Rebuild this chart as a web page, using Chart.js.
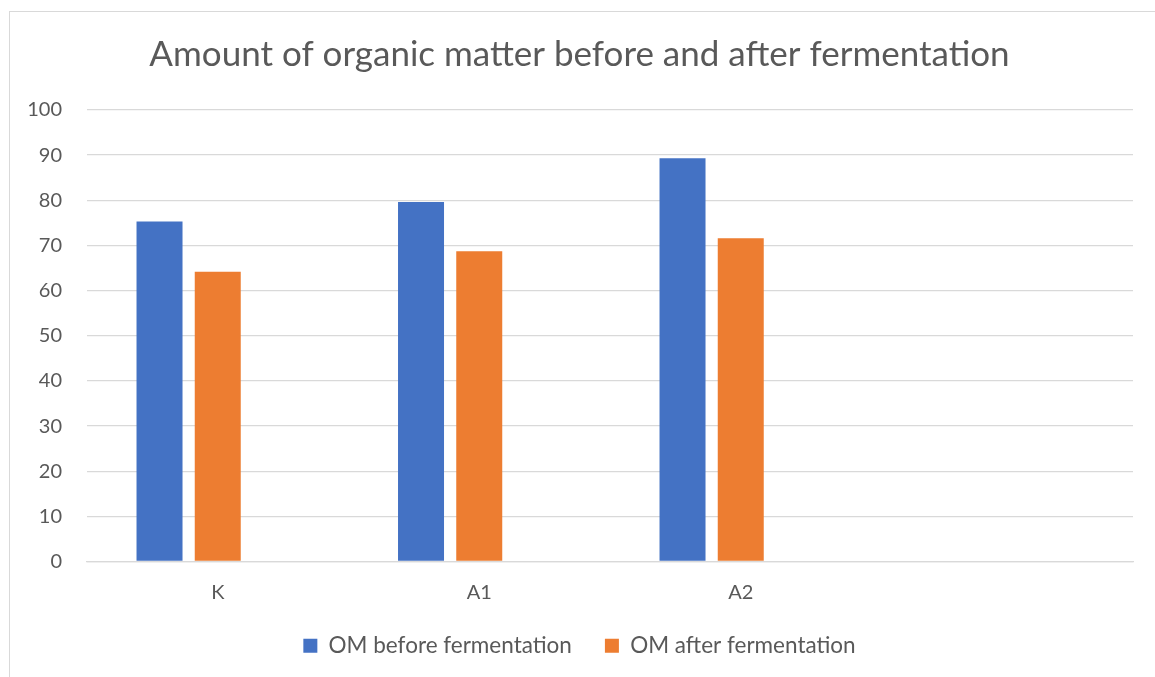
<!doctype html>
<html>
    <head>
        <title>Organic matter</title>
        <meta name="viewport" content="width=device-width, initial-scale=1.0">
        <script src="https://cdn.jsdelivr.net/npm/chart.js@4.4.0/dist/chart.umd.min.js"></script>
        <style>
            html, body { margin: 0; padding: 0; background: #fff; }
            #frame {
                position: absolute; left: 9px; top: 11px;
                width: 1160px; height: 680px;
                border: 1px solid #d9d9d9;
            }
            #container { position: absolute; left: 0; top: 0; width: 1155px; height: 677px; }
        </style>
    </head>
    <body>
        <div id="frame"></div>
        <div id="container">
            <canvas id="omChart"></canvas>
        </div>

        <script>
            var categories = ['K', 'A1', 'A2', ''];
            var omBefore = [75.3, 79.6, 89.3, null];
            var omAfter = [64.2, 68.7, 71.6, null];
            // excel keeps a third (empty) series slot next to the two bars
            var emptySeries = [null, null, null, null];
            var yTicks = [0, 10, 20, 30, 40, 50, 60, 70, 80, 90, 100];

            var font = "Lato, 'Open Sans', sans-serif";
            var grey = '#595959';

            var ctx = document.getElementById('omChart').getContext('2d');
            var chart = new Chart(ctx, {
                type: 'bar',
                data: {
                    labels: categories,
                    datasets: [{
                        label: 'OM before fermentation',
                        backgroundColor: '#4472C4',
                        data: omBefore
                    }, {
                        label: 'OM after fermentation',
                        backgroundColor: '#ED7D31',
                        data: omAfter
                    }, {
                        label: '',
                        backgroundColor: 'rgba(0,0,0,0)',
                        data: emptySeries
                    }]
                },
                options: {
                    responsive: true,
                    maintainAspectRatio: false,
                    animation: false,
                    // labels of the y scale are clipped to its box, so keep left padding small
                    layout: { padding: { top: 34, right: 22, left: 26, bottom: 10 } },
                    datasets: {
                        bar: { categoryPercentage: 0.668, barPercentage: 0.79 }
                    },
                    plugins: {
                        tooltip: { enabled: false },
                        title: {
                            display: true,
                            text: 'Amount of organic matter before and after fermentation',
                            color: grey,
                            font: { family: font, size: 35, weight: '400' },
                            padding: { top: 0, bottom: 34 }
                        },
                        legend: {
                            position: 'bottom',
                            labels: {
                                color: grey,
                                font: { family: font, size: 22.5 },
                                boxWidth: 14,
                                boxHeight: 14,
                                padding: 33,
                                filter: function (item) { return item.text !== ''; }
                            }
                        }
                    },
                    scales: {
                        x: {
                            afterFit: function (scale) { scale.height = 40; },
                            grid: { display: false, drawTicks: false },
                            border: { display: true, color: '#d9d9d9', width: 1.3 },
                            ticks: { color: grey, font: { family: font, size: 20 }, padding: 19 }
                        },
                        y: {
                            min: 0,
                            max: 100,
                            afterFit: function (scale) { scale.width = 61; },
                            afterBuildTicks: function (scale) {
                                scale.ticks = yTicks.map(function (v) { return { value: v }; });
                            },
                            grid: { color: '#d9d9d9', lineWidth: 1.3, drawTicks: false },
                            border: { display: false },
                            ticks: { color: grey, font: { family: font, size: 20 }, padding: 25 }
                        }
                    }
                }
            });
        </script>
    </body>
</html>
